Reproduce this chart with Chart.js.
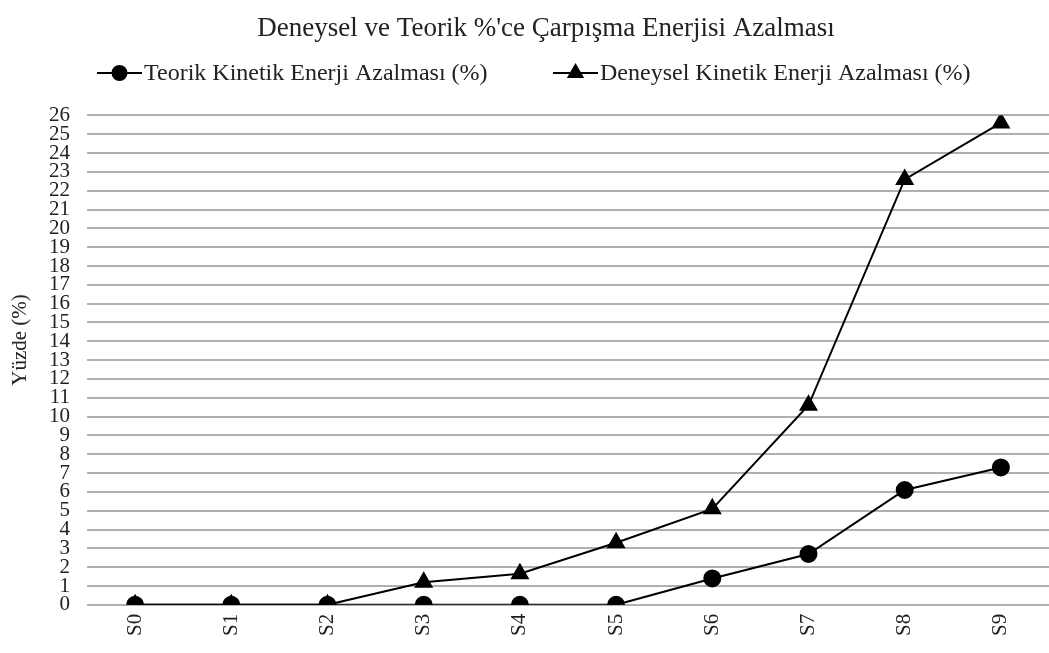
<!DOCTYPE html>
<html>
<head>
<meta charset="utf-8">
<script src="https://cdn.jsdelivr.net/npm/chart.js@4"></script>
<style>
  html, body { margin: 0; padding: 0; background: #fff; overflow: hidden; }
  #wrap { width: 1060px; height: 653px; position: relative; }
</style>
</head>
<body>
<div id="wrap"><canvas id="chart"></canvas></div>
<script>
// categories and series
const categories = ['S0', 'S1', 'S2', 'S3', 'S4', 'S5', 'S6', 'S7', 'S8', 'S9'];
const teorik = [0, 0, 0, 0, 0, 0, 1.4, 2.7, 6.1, 7.3];
const deneysel = [0, 0, 0, 1.2, 1.65, 3.3, 5.1, 10.6, 22.6, 25.6];
const seriesLabels = ['Teorik Kinetik Enerji Azalması (%)', 'Deneysel Kinetik Enerji Azalması (%)'];
const yTicks = { min: 0, max: 26, step: 1 };
const yTitle = 'Yüzde (%)';

const FONT = "'Liberation Serif', 'Times New Roman', serif";
const TEXT = '#222';

// legend and y title drawn by hand so they sit where the original has them
const extras = {
  id: 'extras',
  afterDraw(chart) {
    const ctx = chart.ctx;
    const y = 73;
    const starts = [97, 553];
    ctx.save();
    ctx.font = '24px ' + FONT;
    ctx.textBaseline = 'middle';
    chart.data.datasets.forEach((ds, i) => {
      const x = starts[i];
      ctx.strokeStyle = '#000';
      ctx.lineWidth = 2;
      ctx.beginPath();
      ctx.moveTo(x, y);
      ctx.lineTo(x + 45, y);
      ctx.stroke();
      ctx.fillStyle = '#000';
      Chart.helpers.drawPoint(ctx, {
        pointStyle: ds.pointStyle,
        radius: ds.pointStyle === 'triangle' ? 8 : 7,
        borderWidth: 1
      }, x + 22.5, y);
      ctx.fillStyle = TEXT;
      ctx.fillText(ds.label, x + 47, y + 1);
    });
    // y axis title
    ctx.translate(20, 340);
    ctx.rotate(-Math.PI / 2);
    ctx.textAlign = 'center';
    ctx.font = '21px ' + FONT;
    ctx.fillText(yTitle, 0, 0);
    ctx.restore();
  }
};

new Chart(document.getElementById('chart'), {
  type: 'line',
  data: {
    labels: categories,
    datasets: [
      {
        label: seriesLabels[0],
        data: teorik,
        borderColor: '#000',
        backgroundColor: '#000',
        borderWidth: 2,
        pointStyle: 'circle',
        pointRadius: 8,
        pointBackgroundColor: '#000',
        pointBorderColor: '#000',
        tension: 0
      },
      {
        label: seriesLabels[1],
        data: deneysel,
        borderColor: '#000',
        backgroundColor: '#000',
        borderWidth: 2,
        pointStyle: 'triangle',
        pointRadius: 9,
        pointBackgroundColor: '#000',
        pointBorderColor: '#000',
        tension: 0
      }
    ]
  },
  options: {
    responsive: true,
    maintainAspectRatio: false,
    animation: false,
    layout: { padding: { left: 32, right: 0, top: 0, bottom: 8 } },
    plugins: {
      legend: { display: false },
      tooltip: { enabled: false },
      title: {
        display: true,
        text: 'Deneysel ve Teorik %\'ce Çarpışma Enerjisi Azalması',
        color: TEXT,
        font: { family: FONT, size: 27, weight: 'normal' },
        padding: { top: 13, bottom: 70 }
      }
    },
    scales: {
      x: {
        offset: true,
        grid: { display: false, drawTicks: false },
        border: { display: false },
        ticks: {
          color: TEXT,
          font: { family: FONT, size: 21 },
          minRotation: 90,
          maxRotation: 90,
          padding: 9
        }
      },
      y: {
        min: yTicks.min,
        max: yTicks.max,
        border: { display: false },
        grid: { color: '#b0b0b0', lineWidth: 2, drawTicks: false },
        ticks: {
          stepSize: yTicks.step,
          color: TEXT,
          font: { family: FONT, size: 21, lineHeight: 0.9 },
          padding: 17,
          autoSkip: false
        }
      }
    }
  },
  plugins: [extras]
});
</script>
</body>
</html>
